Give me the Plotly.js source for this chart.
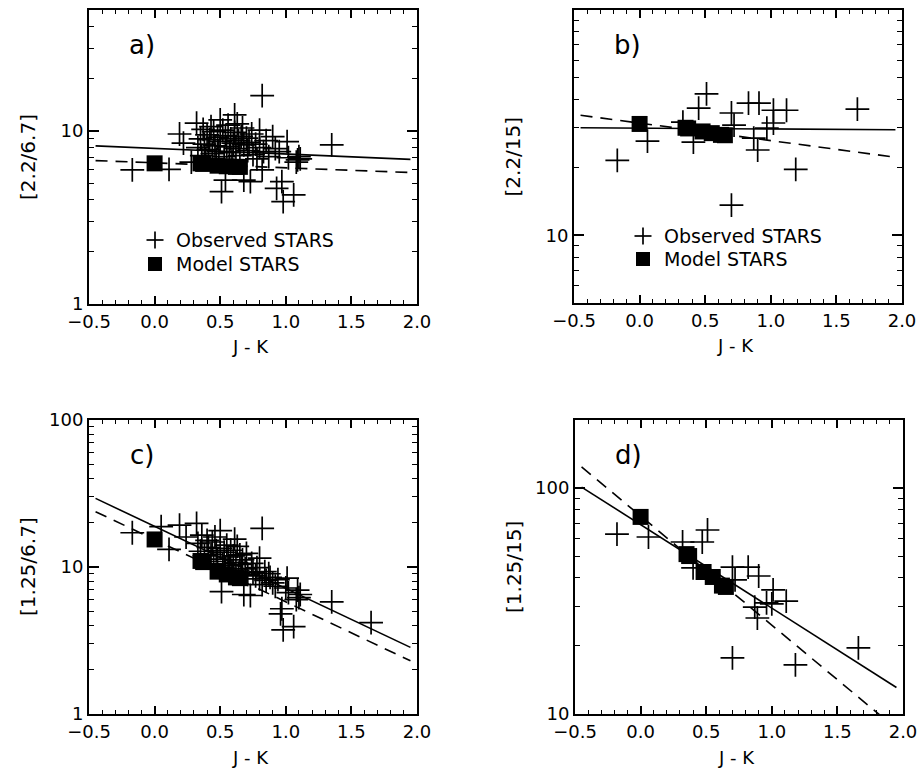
<!DOCTYPE html>
<html><head><meta charset="utf-8">
<script src="https://cdn.plot.ly/plotly-3.0.1.min.js"></script>
<style>html,body{margin:0;padding:0;background:#fff}.layer{position:absolute;left:0;top:0;width:921px;height:771px}</style>
</head><body>
<div class="layer" id="top"></div>
<div class="layer" id="bottom"></div>
<div class="layer" id="text"></div>
<script>
// ---------- data ----------
const xTickVals = [-0.5, 0.0, 0.5, 1.0, 1.5, 2.0];
const xTickText = ['\u22120.5', '0.0', '0.5', '1.0', '1.5', '2.0'];
const yTickVals = [1, 10, 100];
const yTickText = ['1', '10', '100'];
const yMinorVals = [2,3,4,5,6,7,8,9,20,30,40,50,60,70,80,90,200];

const panelNames = ['a)', 'b)', 'c)', 'd)'];
const yTitles = ['[2.2/6.7]', '[2.2/15]', '[1.25/6.7]', '[1.25/15]'];
const xTitle = 'J - K';
const legendNames = ['Observed STARS', 'Model STARS'];

// panel a: observed stars (J-K, 2.2/6.7)
const obsAx = [-0.17,0.11,0.19,0.22,0.28,0.32,0.33,0.35,0.36,0.37,0.38,0.39,0.40,0.41,0.42,0.43,0.44,0.45,0.46,0.47,0.48,0.49,0.50,0.50,0.51,0.52,0.53,0.54,0.54,0.55,0.56,0.57,0.58,0.59,0.60,0.61,0.61,0.62,0.63,0.64,0.65,0.66,0.67,0.68,0.68,0.70,0.71,0.72,0.73,0.74,0.75,0.77,0.78,0.80,0.80,0.82,0.82,0.83,0.85,0.87,0.90,0.92,0.93,0.95,0.97,0.98,1.01,1.02,1.06,1.08,1.09,1.10,1.11,1.35];
const obsAy = [5.95,6.0,9.6,8.5,6.6,11.1,8.0,9.0,7.2,10.2,8.4,6.9,9.5,7.8,8.9,10.6,7.4,9.9,8.2,6.8,9.2,7.6,11.6,8.7,4.46,10.1,7.1,5.2,9.4,8.1,10.8,7.5,9.0,6.7,8.5,12.4,9.8,7.9,11.0,8.8,7.2,9.3,10.4,5.2,8.3,9.1,7.7,8.6,5.1,9.6,7.3,8.4,6.9,10.1,8.0,16.0,5.95,7.6,8.8,7.1,9.27,7.9,4.66,7.6,5.1,3.9,8.67,7.0,4.27,6.6,6.8,7.1,6.9,8.3];

// panel c: observed stars (J-K, 1.25/6.7)
const obsCx = [-0.17,0.05,0.11,0.19,0.24,0.32,0.33,0.35,0.36,0.38,0.40,0.41,0.43,0.44,0.45,0.46,0.47,0.48,0.50,0.50,0.51,0.52,0.53,0.54,0.55,0.56,0.57,0.58,0.59,0.60,0.61,0.62,0.63,0.64,0.65,0.66,0.67,0.68,0.69,0.70,0.71,0.73,0.74,0.75,0.77,0.78,0.80,0.80,0.82,0.82,0.84,0.85,0.87,0.88,0.90,0.92,0.94,0.96,0.97,0.98,1.00,1.01,1.02,1.06,1.08,1.09,1.10,1.11,1.35,1.65];
const obsCy = [17.1,18.8,13.2,19.3,16.0,19.8,14.5,12.8,16.5,11.9,15.2,13.6,12.2,14.8,10.9,16.0,12.9,11.3,17.7,13.4,6.8,10.5,12.6,9.8,14.1,11.7,10.2,13.0,9.4,11.9,15.5,10.7,13.8,9.1,12.1,10.4,11.2,6.5,9.7,12.4,8.9,6.4,10.6,9.2,8.7,9.9,11.5,8.3,18.3,7.6,9.3,8.1,9.0,8.5,7.8,7.4,8.2,4.8,5.2,3.73,7.2,8.4,6.7,3.93,6.0,6.97,6.2,6.5,5.8,4.18];

// panels b and d: observed stars (J-K, 2.2/15) and (J-K, 1.25/15)
const obsBx = [-0.17,0.06,0.33,0.41,0.45,0.51,0.70,0.72,0.70,0.83,0.91,0.87,0.90,0.97,1.02,1.02,1.12,1.19,1.66];
const obsBy = [21.5,26.2,31.8,25.9,36.7,42.4,34.9,30.8,13.6,38.6,38.6,27.0,23.9,29.9,35.9,31.5,35.9,19.6,36.3];
const obsDx = [-0.18,0.06,0.32,0.40,0.47,0.51,0.70,0.72,0.82,0.90,0.87,0.89,0.96,1.00,1.01,1.11,0.70,1.18,1.66];
const obsDy = [62.5,60.7,57.7,44.3,57.7,65.2,44.7,39.2,44.7,40.8,29.7,26.6,31.0,30.7,35.4,31.6,17.7,16.5,19.6];

// model stars
const modelX  = [0.00, 0.35, 0.37, 0.48, 0.55, 0.62, 0.65];
const modelAy = [6.5, 6.5, 6.45, 6.3, 6.25, 6.2, 6.2];
const modelBy = [31.2, 30.0, 29.8, 28.9, 28.4, 27.9, 27.8];
const modelCy = [15.4, 11.0, 10.8, 9.3, 8.9, 8.5, 8.4];
const modelDy = [74.5, 51.0, 50.0, 42.5, 40.4, 37.0, 36.5];

// fit lines (solid and dashed), end points
const fitX = [-0.45, 1.95];
const solidA = [8.2, 6.85],  dashA = [6.74, 5.75];
const solidB = [30.0, 29.4], dashB = [34.1, 22.2];
const solidC = [29.3, 2.84], dashC = [23.8, 2.3];
const solidD = [101, 13.1],  dashD = [124, 8.6];

const yRanges = [[1, 50], [5, 100.05], [1, 100.05], [10, 200]];

// ---------- layout helpers ----------
const W = 921, H = 771;
const px = x => x / W, py = y => 1 - y / H;
// panel pixel boxes [left, right, top, bottom]
const boxes = [[89, 417, 10, 304], [574, 902, 10, 303], [89, 417, 420, 714], [575, 903, 420, 714]];
const FONT = 'DejaVu Sans';
const CLEAR = 'rgba(0,0,0,0)';

const obs = [[obsAx, obsAy], [obsBx, obsBy], [obsCx, obsCy], [obsDx, obsDy]];
const models = [modelAy, modelBy, modelCy, modelDy];
const solids = [solidA, solidB, solidC, solidD];
const dashes = [dashA, dashB, dashC, dashD];

// two panels per chart (a+b on one layer, c+d on another)
function buildPanels(divId, idxs) {
  const data = [];
  const layout = {width: W, height: H, margin: {l: 0, r: 0, t: 0, b: 0},
    paper_bgcolor: CLEAR, plot_bgcolor: CLEAR, showlegend: false, font: {family: FONT, color: '#000'}};
  idxs.forEach((i, j) => {
    const s = j === 0 ? '' : '2';
    const xa = 'x' + s, ya = 'y' + s;
    const b = boxes[i];
    data.push({x: fitX, y: solids[i], xaxis: xa, yaxis: ya, mode: 'lines', line: {color: '#000', width: 1.6}});
    data.push({x: fitX, y: dashes[i], xaxis: xa, yaxis: ya, mode: 'lines', line: {color: '#000', width: 1.6, dash: '12px,8px'}});
    data.push({x: obs[i][0], y: obs[i][1], xaxis: xa, yaxis: ya, mode: 'markers', name: legendNames[0],
               marker: {symbol: 'cross-thin-open', size: 17, color: '#000', line: {color: '#000', width: 1.7}}});
    data.push({x: modelX, y: models[i], xaxis: xa, yaxis: ya, mode: 'markers', name: legendNames[1],
               marker: {symbol: 'square', size: 16, color: '#000', line: {width: 0}}});
    layout['xaxis' + s] = {
      domain: [px(b[0]), px(b[1])], anchor: ya, range: [-0.5, 2.0],
      tickmode: 'array', tickvals: xTickVals, ticktext: xTickText,
      ticks: 'inside', ticklen: 8, tickwidth: 1.5, tickcolor: '#000',
      minor: {tick0: -0.5, dtick: 0.1, ticks: 'inside', ticklen: 4, tickwidth: 1.3, tickcolor: '#000'},
      showline: true, linewidth: 2, linecolor: '#000', mirror: 'allticks',
      showgrid: false, zeroline: false, tickfont: {family: FONT, size: 18, color: '#000'}
    };
    const r = yRanges[i];
    layout['yaxis' + s] = {
      domain: [py(b[3]), py(b[2])], anchor: xa, type: 'log', range: [Math.log10(r[0]), Math.log10(r[1])],
      tickmode: 'array', tickvals: yTickVals, ticktext: yTickText,
      ticks: 'inside', ticklen: 10, tickwidth: 1.5, tickcolor: '#000',
      minor: {tickmode: 'array', tickvals: yMinorVals, ticks: 'inside', ticklen: 5, tickwidth: 1.3, tickcolor: '#000'},
      showline: true, linewidth: 2, linecolor: '#000', mirror: 'allticks',
      showgrid: false, zeroline: false, tickfont: {family: FONT, size: 18, color: '#000'}
    };
  });
  Plotly.newPlot(divId, data, layout, {displayModeBar: false});
}

buildPanels('top', [0, 1]);
buildPanels('bottom', [2, 3]);

// text layer: panel labels, axis titles, legends
const tLayout = {width: W, height: H, margin: {l: 0, r: 0, t: 0, b: 0},
  paper_bgcolor: CLEAR, plot_bgcolor: CLEAR, showlegend: false,
  xaxis: {visible: false, range: [0, 1]}, yaxis: {visible: false, range: [0, 1]},
  annotations: [], shapes: [], font: {family: FONT, color: '#000'}};
for (let i = 0; i < 4; i++) {
  const b = boxes[i];
  tLayout.annotations.push({xref: 'paper', yref: 'paper', x: px(b[0] + 53), y: py(b[2] + 35), text: panelNames[i],
    showarrow: false, xanchor: 'center', yanchor: 'middle', font: {family: FONT, size: 26, color: '#000'}});
  tLayout.annotations.push({xref: 'paper', yref: 'paper', x: px((b[0] + b[1]) / 2 - 3), y: py(b[3] + 43), text: xTitle,
    showarrow: false, xanchor: 'center', yanchor: 'middle', font: {family: FONT, size: 18, color: '#000'}});
  tLayout.annotations.push({xref: 'paper', yref: 'paper', x: px(b[0] - 61), y: py((b[2] + b[3]) / 2), text: yTitles[i],
    textangle: -90, showarrow: false, xanchor: 'center', yanchor: 'middle', font: {family: FONT, size: 20, color: '#000'}});
}
const legPos = [[155, 240, 264], [643, 236, 259]];
legPos.forEach(([cx, y1, y2]) => {
  const h = 8.5;
  tLayout.shapes.push({type: 'line', xref: 'paper', yref: 'paper', x0: px(cx - h), x1: px(cx + h), y0: py(y1), y1: py(y1), line: {color: '#000', width: 1.7}});
  tLayout.shapes.push({type: 'line', xref: 'paper', yref: 'paper', x0: px(cx), x1: px(cx), y0: py(y1 - h), y1: py(y1 + h), line: {color: '#000', width: 1.7}});
  tLayout.shapes.push({type: 'rect', xref: 'paper', yref: 'paper', x0: px(cx - 7), x1: px(cx + 7), y0: py(y2 - 7), y1: py(y2 + 7), fillcolor: '#000', line: {width: 0}});
  tLayout.annotations.push({xref: 'paper', yref: 'paper', x: px(cx + 19), y: py(y1), text: legendNames[0], showarrow: false,
    xanchor: 'left', yanchor: 'middle', font: {family: FONT, size: 19, color: '#000'}});
  tLayout.annotations.push({xref: 'paper', yref: 'paper', x: px(cx + 19), y: py(y2), text: legendNames[1], showarrow: false,
    xanchor: 'left', yanchor: 'middle', font: {family: FONT, size: 19, color: '#000'}});
});
Plotly.newPlot('text', [], tLayout, {displayModeBar: false});
</script></body></html>
